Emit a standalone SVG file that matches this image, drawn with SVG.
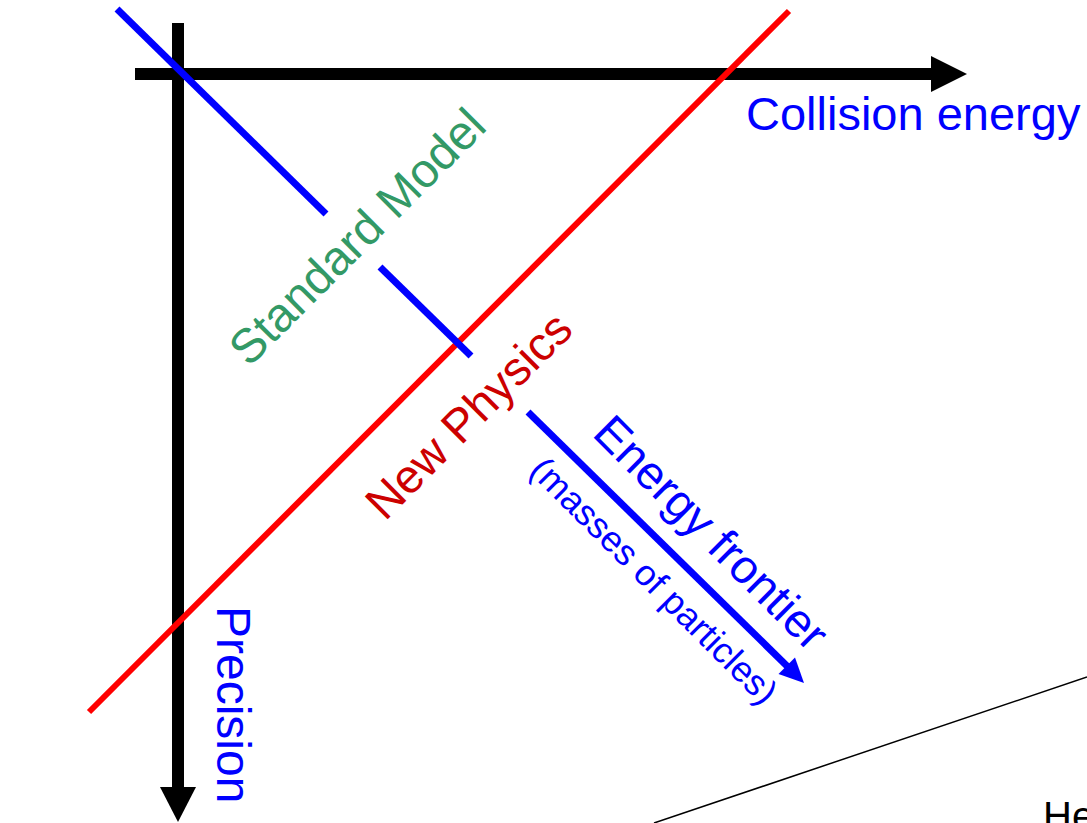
<svg xmlns="http://www.w3.org/2000/svg" width="1087" height="823" viewBox="0 0 1087 823">
  <style>
    .lbl { font-family: "Liberation Sans", Arial, Helvetica, sans-serif; }
    .axis { stroke: #000; stroke-width: 12; fill: none; }
    .blue { stroke: #0000FF; stroke-width: 7; fill: none; }
    .red { stroke: #FF0000; stroke-width: 6; fill: none; }
  </style>
  <rect width="1087" height="823" fill="#fff"/>
  <g id="connectors">
    <line x1="654" y1="823" x2="1087" y2="677" stroke="#000" stroke-width="1.5"/>
    <line class="axis" x1="178" y1="23" x2="178" y2="788"/>
    <polygon points="160,787 196,787 178,822" fill="#000"/>
    <line class="axis" x1="135" y1="74" x2="932" y2="74"/>
    <polygon points="931,56 931,92 967,74" fill="#000"/>
    <line class="red" x1="789" y1="11" x2="89" y2="712"/>
    <line class="blue" x1="117" y1="9" x2="326" y2="214"/>
    <line class="blue" x1="380" y1="267" x2="471" y2="356"/>
    <line class="blue" x1="528" y1="412" x2="788" y2="667"/>
    <polygon points="804,683 795,657.5 778.5,674" fill="#0000FF"/>
  </g>
  <g id="collision-energy">
    <text class="lbl" x="746" y="130" font-size="47" fill="#0000FF">Collision energy</text>
  </g>
  <g id="precision">
    <text class="lbl" transform="translate(217,606) rotate(90)" font-size="48" fill="#0000FF">Precision</text>
  </g>
  <g id="standard-model">
    <text class="lbl" transform="translate(249,368) rotate(-45)" font-size="48" fill="#339966">Standard Model</text>
  </g>
  <g id="new-physics">
    <text class="lbl" transform="translate(385,522) rotate(-45)" font-size="47" fill="#CC0000">New Physics</text>
  </g>
  <g id="energy-frontier">
    <text class="lbl" transform="translate(591,435) rotate(45)" font-size="47" fill="#0000FF">Energy frontier</text>
  </g>
  <g id="masses">
    <text class="lbl" transform="translate(528,472) rotate(45)" font-size="36" fill="#0000FF">(masses of particles)</text>
  </g>
  <g id="he">
    <text class="lbl" x="1043" y="830" font-size="40" fill="#000">He</text>
  </g>
</svg>
